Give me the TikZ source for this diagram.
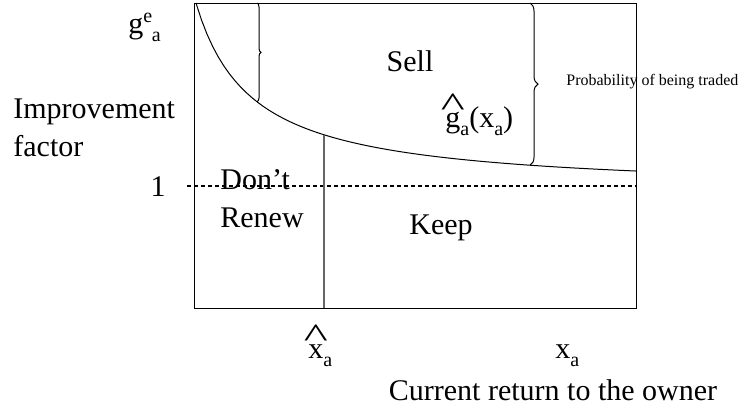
\documentclass[tikz,border=0pt]{standalone}
\usepackage{fontspec}
\usepackage{graphicx}
\setmainfont{Liberation Serif}
\usetikzlibrary{decorations.pathreplacing, positioning}

\newcommand{\lowsub}[1]{\raisebox{-4pt}{\fontsize{10}{12}\selectfont #1}}
\newcommand{\highsup}[1]{\raisebox{5.5pt}{\fontsize{10}{12}\selectfont #1}}
\newcommand{\hatted}[1]{\leavevmode\ooalign{#1\cr\hidewidth\raisebox{0.36em}{\scalebox{1.7}[1.15]{\^{}}}\hidewidth\cr}}

\begin{document}
\begin{tikzpicture}[x=0.5pt, y=-0.5pt,
  lbl/.style={font=\fontsize{15}{19}\selectfont, inner sep=0pt},
  tiny/.style={font=\fontsize{8}{10}\selectfont, inner sep=0pt},
  curly/.style={decorate, decoration={brace, amplitude=#1}},
  frontier/.style={draw=black!60, line width=0.6pt},
  level/.style={dashed, dash pattern=on 2pt off 1.5pt, line width=0.7pt}
]
\useasboundingbox (0,0) rectangle (743,413);

% Axes box
\coordinate (tl) at (194,3);
\coordinate (br) at (636,308);
\draw[line width=0.5pt] (tl) rectangle (br);

% Threshold curve
\draw[line width=0.5pt] plot[domain=196:636, samples=80] (\x, {308-(115.6+10604/(\x-140))});

\coordinate (onetick) at (187,186);
\coordinate (oneend) at (636,186);
\draw[level] (onetick) -- (oneend);

\coordinate (xhattop) at (324,134.8);
\coordinate (xhatbot) at (324,308);
\draw[frontier] (xhattop) -- (xhatbot);

% Braces
\coordinate (b1top) at (257,3);
\coordinate (b1bot) at (257,101.8);
\draw[curly=2pt, line width=0.5pt] (b1top) -- (b1bot);
\coordinate (b2top) at (530,3);
\coordinate (b2bot) at (530,165.2);
\draw[curly=4pt, line width=0.5pt] (b2top) -- (b2bot);

% Labels
\node[lbl, anchor=base west] (gea) at (128,33) {g\rlap{\highsup{e}}\hspace{0.28em}\lowsub{a}};
\node[lbl, anchor=west, align=left] (yaxis) at (13,128) {Improvement\\factor};
\node[lbl] (one) at (158,187) {1};
\node[lbl] (sell) at (410,61) {Sell};
\node[lbl, anchor=base west] (ghat) at (445,127) {\hatted{g}\lowsub{a}(x\lowsub{a})};
\node[tiny, anchor=west] (prob) at (566,82) {Probability of being traded};
\node[lbl, anchor=base west, align=left] (dont) at (220,227) {Don’t\\Renew};
\node[lbl] (keep) at (441,228) {Keep};
\node[lbl, anchor=base west] (xhat) at (308,358) {\hatted{x}\lowsub{a}};
\node[lbl, anchor=base west] (xa) at (555,358) {x\lowsub{a}};
\node[lbl] (xaxis) at (553,390) {Current return to the owner};

\end{tikzpicture}
\end{document}
